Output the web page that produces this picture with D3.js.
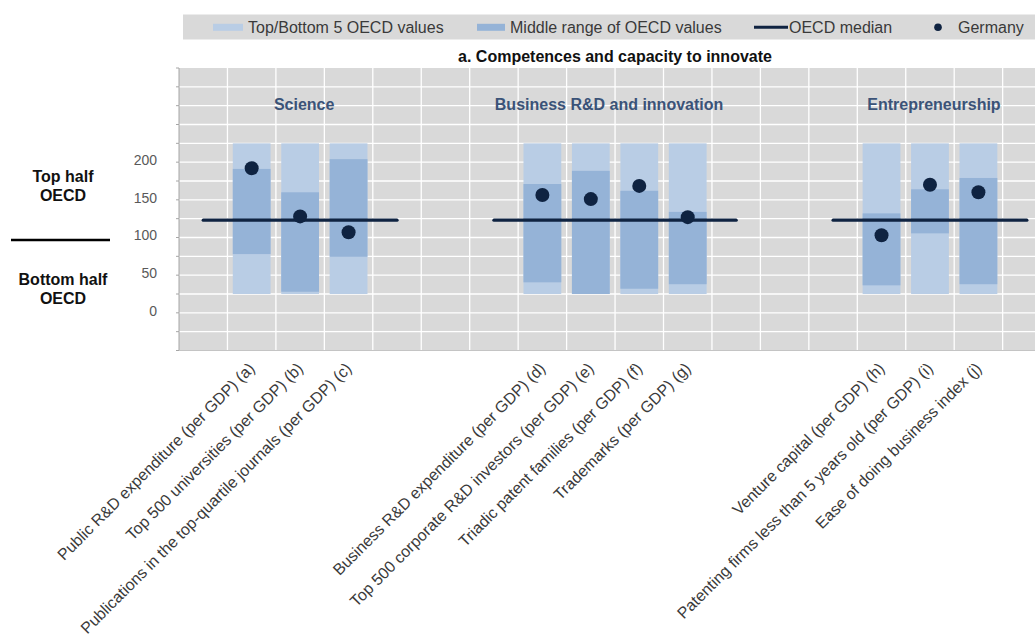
<!DOCTYPE html>
<html>
<head>
<meta charset="utf-8">
<script src="https://cdn.jsdelivr.net/npm/d3@7"></script>
<style>
  html, body { margin: 0; padding: 0; background: #fff; }
  svg { display: block; font-family: "Liberation Sans", Arial, sans-serif; }
</style>
</head>
<body>
<svg id="chart" width="1035" height="634"></svg>
<script>
// ---- Data ----
const groups = ["Science", "Business R&D and innovation", "Entrepreneurship"];
const categories = [
  "Public R&D expenditure (per GDP) (a)",
  "Top 500 universities (per GDP) (b)",
  "Publications in the top-quartile journals (per GDP) (c)",
  "Business R&D expenditure (per GDP) (d)",
  "Top 500 corporate R&D investors (per GDP) (e)",
  "Triadic patent families (per GDP) (f)",
  "Trademarks (per GDP) (g)",
  "Venture capital (per GDP) (h)",
  "Patenting firms less than 5 years old (per GDP) (i)",
  "Ease of doing business index (j)"
];
const categoryGroup = [0, 0, 0, 1, 1, 1, 1, 2, 2, 2];
const topBottomLow  = [25, 25, 25, 25, 25, 25, 25, 25, 25, 25];
const topBottomHigh = [225, 225, 225, 225, 225, 225, 225, 225, 225, 225];
const middleLow  = [78, 28, 74.5, 40.5, 25, 32, 38, 36.5, 105.5, 38];
const middleHigh = [191, 160, 204, 171, 188.5, 162, 134, 132, 164, 179];
const germany    = [192, 128, 107, 156.5, 151, 168.5, 127, 103, 170, 160];
const oecdMedian = [123, 123, 123];
const yTicks = [0, 50, 100, 150, 200];
const legendLabels = ["Top/Bottom 5 OECD values", "Middle range of OECD values", "OECD median", "Germany"];
const title = "a. Competences and capacity to innovate";

// ---- Style ----
const C = {
  light: "#b9cde5", mid: "#95b3d7", navy: "#0f2341",
  plotBg: "#d9d9d9", grid: "#ffffff", text: "#3a3a3a", groupTitle: "#3b5378"
};
const groupTitleShift = [4, -6, 4];

const svg = d3.select("#chart");

// Build slot domain with spacer slots: 1 before, 3 between groups, 1 after
const slots = [];
let sp = 0;
const addSpacer = () => slots.push("__sp" + (sp++));
addSpacer();
groups.forEach((g, gi) => {
  categories.forEach((c, i) => { if (categoryGroup[i] === gi) slots.push(c); });
  if (gi < groups.length - 1) { addSpacer(); addSpacer(); addSpacer(); }
});
addSpacer();

const plot = { left: 179, top: 68, bottom: 350.5 };
const step = 48.45;
plot.right = plot.left + step * slots.length;

const x = d3.scaleBand().domain(slots).range([plot.left, plot.right]).padding(0);
const y = d3.scaleLinear().domain([-50, 325]).range([plot.bottom, plot.top]);

// Plot background
svg.append("rect")
  .attr("x", plot.left).attr("y", plot.top)
  .attr("width", plot.right - plot.left).attr("height", plot.bottom - plot.top)
  .attr("fill", C.plotBg);

// Horizontal grid every 25
const gridVals = d3.range(-25, 325, 25);
svg.append("g").selectAll("line").data(gridVals).join("line")
  .attr("x1", plot.left).attr("x2", plot.right)
  .attr("y1", d => y(d)).attr("y2", d => y(d))
  .attr("stroke", C.grid).attr("stroke-width", 1.3);

// Vertical grid at slot boundaries
svg.append("g").selectAll("line").data(slots.slice(1)).join("line")
  .attr("x1", d => x(d)).attr("x2", d => x(d))
  .attr("y1", plot.top).attr("y2", plot.bottom)
  .attr("stroke", C.grid).attr("stroke-width", 1.3);

// Left axis line + small ticks
svg.append("line")
  .attr("x1", plot.left).attr("x2", plot.left)
  .attr("y1", plot.top).attr("y2", plot.bottom)
  .attr("stroke", "#a6a6a6").attr("stroke-width", 1);
svg.append("line")
  .attr("x1", plot.left).attr("x2", plot.right)
  .attr("y1", plot.bottom).attr("y2", plot.bottom)
  .attr("stroke", "#c4c4c4").attr("stroke-width", 1);
svg.append("g").selectAll("line").data(d3.range(-50, 326, 25)).join("line")
  .attr("x1", plot.left - 3).attr("x2", plot.left)
  .attr("y1", d => y(d)).attr("y2", d => y(d))
  .attr("stroke", "#a6a6a6").attr("stroke-width", 1);

// Y tick labels
svg.append("g").selectAll("text").data(yTicks).join("text")
  .attr("x", 157).attr("y", d => y(d) - 2)
  .attr("dy", "0.35em")
  .attr("text-anchor", "end")
  .attr("font-size", 14).attr("fill", "#595959")
  .text(d => d);

// Bars
const barW = x.bandwidth() * 0.78;
const cx = c => x(c) + x.bandwidth() / 2;

svg.append("g").selectAll("rect").data(categories).join("rect")
  .attr("x", d => cx(d) - barW / 2)
  .attr("width", barW)
  .attr("y", (d, i) => y(topBottomHigh[i]))
  .attr("height", (d, i) => y(topBottomLow[i]) - y(topBottomHigh[i]))
  .attr("fill", C.light);

svg.append("g").selectAll("rect").data(categories).join("rect")
  .attr("x", d => cx(d) - barW / 2)
  .attr("width", barW)
  .attr("y", (d, i) => y(middleHigh[i]))
  .attr("height", (d, i) => y(middleLow[i]) - y(middleHigh[i]))
  .attr("fill", C.mid);

// Median lines: from centre of slot before first category to centre of slot after last
groups.forEach((g, gi) => {
  const idx = slots.map((s, k) => categoryGroup[categories.indexOf(s)] === gi ? k : -1).filter(k => k >= 0);
  const first = idx[0] - 1, last = idx[idx.length - 1] + 1;
  svg.append("line")
    .attr("x1", cx(slots[first])).attr("x2", cx(slots[last]))
    .attr("y1", y(oecdMedian[gi])).attr("y2", y(oecdMedian[gi]))
    .attr("stroke", C.navy).attr("stroke-width", 3.2).attr("stroke-linecap", "round");
  const members = categories.filter((c, i) => categoryGroup[i] === gi);
  const gx = d3.mean(members, cx) + groupTitleShift[gi];
  svg.append("text")
    .attr("x", gx).attr("y", 110)
    .attr("text-anchor", "middle")
    .attr("font-size", 16).attr("font-weight", "bold")
    .attr("fill", C.groupTitle)
    .text(g);
});

// Germany dots
svg.append("g").selectAll("circle").data(categories).join("circle")
  .attr("cx", d => cx(d))
  .attr("cy", (d, i) => y(germany[i]))
  .attr("r", 7)
  .attr("fill", C.navy);

// X labels rotated
svg.append("g").selectAll("text").data(categories).join("text")
  .attr("transform", d => `translate(${cx(d) + 4},${plot.bottom + 19}) rotate(-45)`)
  .attr("text-anchor", "end")
  .attr("font-size", 16).attr("fill", C.text)
  .text(d => d);

// Left side labels
const side = svg.append("g").attr("font-size", 16).attr("font-weight", "bold")
  .attr("fill", "#111").attr("text-anchor", "middle");
side.append("text").attr("x", 63).attr("y", 182).text("Top half");
side.append("text").attr("x", 63).attr("y", 201).text("OECD");
side.append("text").attr("x", 63).attr("y", 285).text("Bottom half");
side.append("text").attr("x", 63).attr("y", 304).text("OECD");
svg.append("line").attr("x1", 11).attr("x2", 110).attr("y1", 240).attr("y2", 240)
  .attr("stroke", "#000").attr("stroke-width", 2.5);

// Title
svg.append("text")
  .attr("x", 615).attr("y", 61.5)
  .attr("text-anchor", "middle")
  .attr("font-size", 16).attr("font-weight", "bold").attr("fill", "#111")
  .text(title);

// Legend
const lg = svg.append("g");
lg.append("rect").attr("x", 183).attr("y", 14.5).attr("width", 852).attr("height", 25)
  .attr("fill", C.plotBg);
const ly = 27.3;
lg.append("rect").attr("x", 213).attr("y", ly - 3.5).attr("width", 30).attr("height", 7).attr("fill", C.light);
lg.append("rect").attr("x", 477).attr("y", ly - 3.5).attr("width", 28).attr("height", 7).attr("fill", C.mid);
lg.append("line").attr("x1", 754).attr("x2", 788).attr("y1", ly).attr("y2", ly)
  .attr("stroke", C.navy).attr("stroke-width", 3);
lg.append("circle").attr("cx", 938).attr("cy", ly).attr("r", 3.8).attr("fill", C.navy);
const legX = [248, 510, 789, 958];
lg.selectAll("text.leg").data(legendLabels).join("text")
  .attr("class", "leg")
  .attr("x", (d, i) => legX[i]).attr("y", ly).attr("dy", "0.35em")
  .attr("font-size", 16).attr("fill", C.text)
  .text(d => d);
</script>
</body>
</html>
